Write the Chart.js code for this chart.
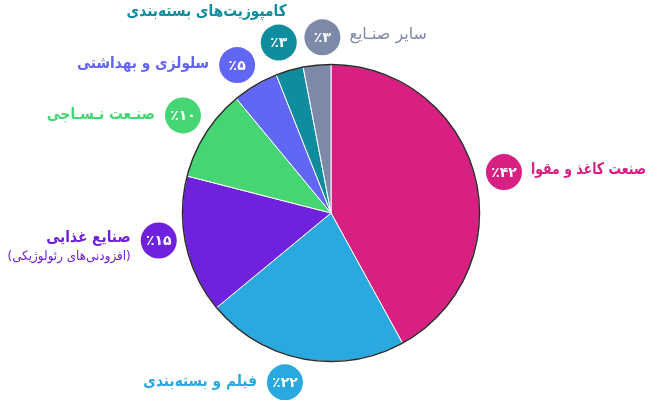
<!DOCTYPE html>
<html lang="fa">
<head>
<meta charset="utf-8">
<script src="https://cdn.jsdelivr.net/npm/chart.js@4.4.1/dist/chart.umd.min.js"></script>
<style>
  html, body { margin: 0; padding: 0; background: #fff; }
  #wrap { width: 648px; height: 400px; }
</style>
</head>
<body>
<div id="wrap"><canvas id="chart"></canvas></div>
<script>
// chart data
const categories = ['صنعت کاغذ و مقوا', 'فیلم و بسته‌بندی', 'صنایع غذایی', 'صنـعت نـسـاجی', 'سلولزی و بهداشتی', 'کامپوزیت‌های بسته‌بندی', 'سایر صنـایع']
const subLabels = ['', '', '(افزودنی‌های رئولوژیکی)', '', '', '', '']
const shares = [42, 22, 15, 10, 5, 3, 3]
const sliceColors = ['#d81f82', '#2aa8e0', '#6f21de', '#45d673', '#6266f5', '#0f8d9f', '#7d89a8']

const FONT = "'DejaVu Sans', sans-serif"

function toPersianDigits(n) {
  return String(n).replace(/\d/g, d => '۰۱۲۳۴۵۶۷۸۹'[d])
}

// small nudges so the badges don't crowd each other
const badgeNudge = [[2, 3], [-13, -4], [0, -11], [1, -3], [-4, 4], [-3, -1], [8, 0]]

// draws text a bit condensed (DejaVu's arabic runs wide), never past maxW
function drawLabel(ctx, text, x, y, squeeze, maxW) {
  let w = ctx.measureText(text).width * squeeze
  if (maxW && w > maxW) w = maxW
  ctx.fillText(text, x, y, w)
}

// outer outline + badge labels around the pie
const labelPlugin = {
  id: 'pieLabels',
  afterDatasetsDraw(chart) {
    const ctx = chart.ctx
    const arcs = chart.getDatasetMeta(0).data
    if (!arcs.length) return
    const { x, y, outerRadius } = arcs[0]

    ctx.save()
    ctx.beginPath()
    ctx.arc(x, y, outerRadius, 0, Math.PI * 2)
    ctx.strokeStyle = '#2b2b2b'
    ctx.lineWidth = 1.5
    ctx.stroke()

    arcs.forEach((arc, i) => {
      const mid = (arc.startAngle + arc.endAngle) / 2
      const r = outerRadius + 28
      const cx = x + Math.cos(mid) * r + badgeNudge[i][0]
      const cy = y + Math.sin(mid) * r + badgeNudge[i][1]
      const color = sliceColors[i]

      // badge
      ctx.beginPath()
      ctx.arc(cx, cy, 18, 0, Math.PI * 2)
      ctx.fillStyle = color
      ctx.fill()
      ctx.fillStyle = '#fff'
      ctx.font = `bold 14px ${FONT}`
      ctx.textAlign = 'center'
      ctx.textBaseline = 'middle'
      ctx.direction = 'ltr'
      ctx.fillText('٪' + toPersianDigits(shares[i]), cx, cy + 1)

      // category text
      ctx.direction = 'rtl'
      ctx.fillStyle = color
      const isOther = i === categories.length - 1
      ctx.font = isOther ? `normal 16px ${FONT}` : `bold 16px ${FONT}`
      const squeeze = isOther ? 1 : 0.86
      if (i === 5) {
        // composites: text sits above its badge
        ctx.textAlign = 'right'
        drawLabel(ctx, categories[i], cx + 8, cy - 31, squeeze)
      } else if (Math.cos(mid) > 0 || isOther) {
        ctx.textAlign = 'left'
        const tx = cx + 27
        drawLabel(ctx, categories[i], tx, cy - 2, squeeze, chart.width - 2 - tx)
      } else {
        ctx.textAlign = 'right'
        const tx = cx - 28
        const ty = subLabels[i] ? cy - 3 : cy - 1
        drawLabel(ctx, categories[i], tx, ty, squeeze)
        if (subLabels[i]) {
          ctx.font = `normal 13px ${FONT}`
          drawLabel(ctx, subLabels[i], tx, ty + 19, 0.92, tx)
        }
      }
    })
    ctx.restore()
  }
}

new Chart(document.getElementById('chart'), {
  type: 'pie',
  data: {
    labels: categories,
    datasets: [{
      data: shares,
      backgroundColor: sliceColors,
      borderColor: '#ffffff',
      borderWidth: 1
    }]
  },
  options: {
    responsive: true,
    maintainAspectRatio: false,
    animation: false,
    layout: { padding: { top: 64, bottom: 38, left: 14, right: 0 } },
    plugins: {
      legend: { display: false },
      tooltip: { enabled: false }
    }
  },
  plugins: [labelPlugin]
})
</script>
</body>
</html>
